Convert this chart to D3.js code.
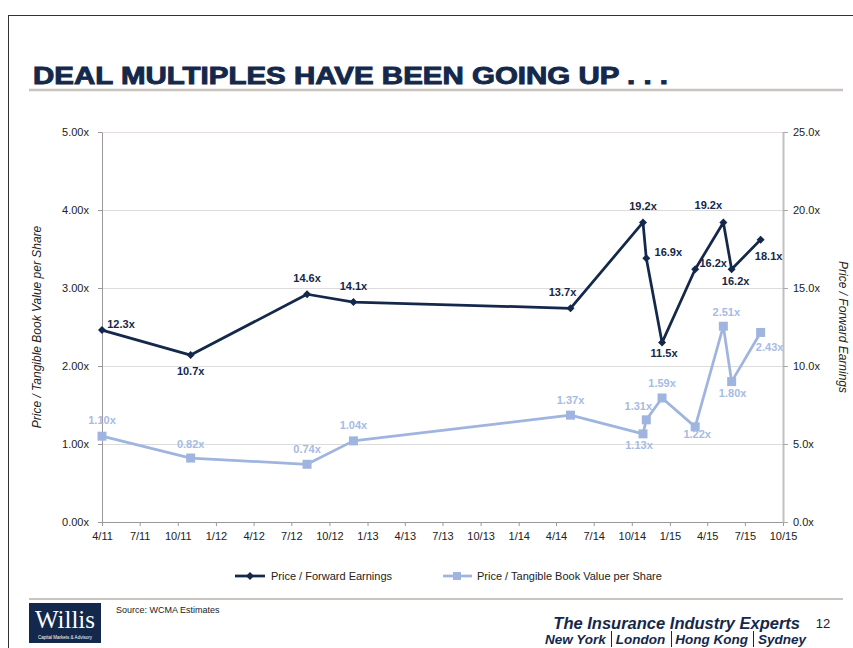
<!DOCTYPE html>
<html>
<head>
<meta charset="utf-8">
<script src="https://cdn.jsdelivr.net/npm/d3@7"></script>
<style>
  html, body { margin: 0; padding: 0; background: #fff; }
  svg { display: block; font-family: Arial, "Liberation Sans", Helvetica, sans-serif; }
</style>
</head>
<body>
<svg id="chart" width="853" height="648"></svg>
<script>
// Deal dates and the two multiples observed at each deal
const dealDates = ["2011-04-01", "2011-11-01", "2012-08-08", "2012-11-28", "2014-05-06", "2014-10-28",
                   "2014-11-05", "2014-12-13", "2015-03-03", "2015-05-10", "2015-05-30", "2015-08-08"];
const peValues  = [12.3, 10.7, 14.6, 14.1, 13.7, 19.2, 16.9, 11.5, 16.2, 19.2, 16.2, 18.1];
const tbvValues = [1.10, 0.82, 0.74, 1.04, 1.37, 1.13, 1.31, 1.59, 1.22, 2.51, 1.80, 2.43];

// Axis ticks
const leftTicks  = [0, 1, 2, 3, 4, 5];
const rightTicks = [0, 5, 10, 15, 20, 25];

// Office locations in the footer
const cityNames = ["New York", "London", "Hong Kong", "Sydney"];

// Label offsets (dx, dy from the marker centre)
const peLabelOffsets  = [[19, -6], [0, 16], [0, -16], [0, -16], [-8, -16], [0, -16],
                         [22, -6], [2, 10], [18, -6], [-15, -17], [4, 12], [8, 16]];
const tbvLabelOffsets = [[0, -16], [0, -14], [0, -15], [0, -16], [0, -15], [-4, 11],
                         [-8, -14], [0, -15], [2, 7], [3, -14], [1, 11], [9, 15]];

const navy = "#14284b";
const lightBlue = "#9fb5e0";

const svg = d3.select("#chart");
const parse = d3.timeParse("%Y-%m-%d");
const dates = dealDates.map(parse);

const plot = { left: 102, right: 783, top: 132, bottom: 522 };

const x = d3.scaleTime()
  .domain([new Date(2011, 3, 1), new Date(2015, 9, 1)])
  .range([plot.left, plot.right]);
const yLeft = d3.scaleLinear().domain([0, 5]).range([plot.bottom, plot.top]);
const yRight = d3.scaleLinear().domain([0, 25]).range([plot.bottom, plot.top]);

// Page frame
svg.append("rect").attr("x", 0).attr("y", 0).attr("width", 853).attr("height", 648).attr("fill", "#fff");
svg.append("line").attr("x1", 8).attr("x2", 853).attr("y1", 15.5).attr("y2", 15.5)
  .attr("stroke", "#333").attr("stroke-width", 1);
svg.append("line").attr("x1", 8.5).attr("x2", 8.5).attr("y1", 15).attr("y2", 648)
  .attr("stroke", "#333").attr("stroke-width", 1);

// Title
svg.append("text")
  .attr("x", 33).attr("y", 84)
  .attr("font-size", 23).attr("font-weight", "bold")
  .attr("fill", navy).attr("stroke", navy).attr("stroke-width", 0.9)
  .attr("textLength", 635).attr("lengthAdjust", "spacingAndGlyphs")
  .text("DEAL MULTIPLES HAVE BEEN GOING UP . . .");
svg.append("line").attr("x1", 29).attr("x2", 843).attr("y1", 90).attr("y2", 90)
  .attr("stroke", "#c9c4c0").attr("stroke-width", 2.5);

// Gridlines
svg.append("g").selectAll("line")
  .data(leftTicks.filter(d => d > 0))
  .join("line")
  .attr("x1", plot.left).attr("x2", plot.right)
  .attr("y1", d => Math.round(yLeft(d)) + 0.5).attr("y2", d => Math.round(yLeft(d)) + 0.5)
  .attr("stroke", d => d === 5 ? "#e8dcdc" : "#dcdcdc").attr("stroke-width", 1);

// Axes
const fmtMonth = d => (d.getMonth() + 1) + "/" + d3.timeFormat("%y")(d);

const xAxis = svg.append("g")
  .attr("transform", `translate(0,${plot.bottom})`)
  .call(d3.axisBottom(x).ticks(d3.timeMonth.every(3)).tickFormat(fmtMonth).tickSize(4).tickPadding(6).tickSizeOuter(0));

const leftAxis = svg.append("g")
  .attr("transform", `translate(${plot.left},0)`)
  .call(d3.axisLeft(yLeft).tickValues(leftTicks).tickFormat(d => d.toFixed(2) + "x").tickSize(4).tickPadding(9).tickSizeOuter(0));

const rightAxis = svg.append("g")
  .attr("transform", `translate(${plot.right},0)`)
  .call(d3.axisRight(yRight).tickValues(rightTicks).tickFormat(d => d.toFixed(1) + "x").tickSize(5).tickPadding(5).tickSizeOuter(0));

[xAxis, leftAxis].forEach(g => {
  g.select(".domain").attr("stroke", "#999").attr("stroke-width", 1);
  g.selectAll(".tick line").attr("stroke", "#999");
});
rightAxis.select(".domain").attr("stroke", "#c0c0c0").attr("stroke-width", 2);
rightAxis.selectAll(".tick line").attr("stroke", "#aaa");
[xAxis, leftAxis, rightAxis].forEach(g => {
  g.selectAll("text").attr("font-size", 11).attr("fill", "#222")
    .attr("font-family", "Arial, 'Liberation Sans', sans-serif");
});

// Axis titles
svg.append("text")
  .attr("transform", `translate(41,${(plot.top + plot.bottom) / 2}) rotate(-90)`)
  .attr("text-anchor", "middle")
  .attr("font-size", 12).attr("font-style", "italic").attr("fill", "#222")
  .text("Price / Tangible Book Value per Share");
svg.append("text")
  .attr("transform", `translate(839,${(plot.top + plot.bottom) / 2}) rotate(90)`)
  .attr("text-anchor", "middle")
  .attr("font-size", 12).attr("font-style", "italic").attr("fill", "#222")
  .text("Price / Forward Earnings");

// Series
const tbvData = dates.map((d, i) => ({ date: d, value: tbvValues[i], off: tbvLabelOffsets[i] }));
const peData = dates.map((d, i) => ({ date: d, value: peValues[i], off: peLabelOffsets[i] }));

const tbvLine = d3.line().x(d => x(d.date)).y(d => yLeft(d.value));
const peLine = d3.line().x(d => x(d.date)).y(d => yRight(d.value));

svg.append("path").datum(tbvData)
  .attr("d", tbvLine).attr("fill", "none")
  .attr("stroke", lightBlue).attr("stroke-width", 2.75).attr("stroke-linejoin", "round");

svg.append("g").selectAll("path")
  .data(tbvData).join("path")
  .attr("transform", d => `translate(${x(d.date)},${yLeft(d.value)})`)
  .attr("d", d3.symbol(d3.symbolSquare, 81))
  .attr("fill", lightBlue);

svg.append("path").datum(peData)
  .attr("d", peLine).attr("fill", "none")
  .attr("stroke", navy).attr("stroke-width", 2.75).attr("stroke-linejoin", "round");

svg.append("g").selectAll("path")
  .data(peData).join("path")
  .attr("transform", d => `translate(${x(d.date)},${yRight(d.value)}) rotate(45)`)
  .attr("d", d3.symbol(d3.symbolSquare, 32))
  .attr("fill", navy);

// Data labels
svg.append("g").selectAll("text")
  .data(tbvData).join("text")
  .attr("x", d => x(d.date) + d.off[0])
  .attr("y", d => yLeft(d.value) + d.off[1])
  .attr("text-anchor", "middle").attr("dominant-baseline", "central")
  .attr("font-size", 11).attr("font-weight", "bold").attr("fill", "#a6bbe3")
  .text(d => d.value.toFixed(2) + "x");

svg.append("g").selectAll("text")
  .data(peData).join("text")
  .attr("x", d => x(d.date) + d.off[0])
  .attr("y", d => yRight(d.value) + d.off[1])
  .attr("text-anchor", "middle").attr("dominant-baseline", "central")
  .attr("font-size", 11).attr("font-weight", "bold").attr("fill", navy)
  .text(d => d.value.toFixed(1) + "x");

// Legend
const legend = svg.append("g").attr("transform", "translate(0,576)");
legend.append("line").attr("x1", 235).attr("x2", 265).attr("y1", 0).attr("y2", 0)
  .attr("stroke", navy).attr("stroke-width", 2.75);
legend.append("path").attr("transform", "translate(250,0) rotate(45)")
  .attr("d", d3.symbol(d3.symbolSquare, 32)).attr("fill", navy);
legend.append("text").attr("x", 271).attr("y", 0).attr("dominant-baseline", "central")
  .attr("font-size", 11).attr("fill", "#222").text("Price / Forward Earnings");
legend.append("line").attr("x1", 443).attr("x2", 472).attr("y1", 0).attr("y2", 0)
  .attr("stroke", lightBlue).attr("stroke-width", 2.75);
legend.append("path").attr("transform", "translate(457,0)")
  .attr("d", d3.symbol(d3.symbolSquare, 64)).attr("fill", lightBlue);
legend.append("text").attr("x", 477).attr("y", 0).attr("dominant-baseline", "central")
  .attr("font-size", 11).attr("fill", "#222").text("Price / Tangible Book Value per Share");

// Footer
svg.append("line").attr("x1", 29).attr("x2", 843).attr("y1", 599).attr("y2", 599)
  .attr("stroke", "#c9c4c0").attr("stroke-width", 2);

const logo = svg.append("g");
logo.append("rect").attr("x", 29).attr("y", 603).attr("width", 72).attr("height", 40).attr("fill", "#14284b");
logo.append("text").attr("x", 65).attr("y", 628).attr("text-anchor", "middle")
  .attr("font-family", "'Liberation Serif', 'DejaVu Serif', serif").attr("font-size", 25)
  .attr("fill", "#fff").text("Willis");
logo.append("text").attr("x", 65).attr("y", 638.5).attr("text-anchor", "middle")
  .attr("font-size", 4.5).attr("fill", "#fff").text("Capital Markets & Advisory");

svg.append("text").attr("x", 116).attr("y", 613)
  .attr("font-size", 9).attr("fill", "#222").text("Source: WCMA Estimates");

svg.append("text").attr("x", 800).attr("y", 629).attr("text-anchor", "end")
  .attr("font-size", 16.5).attr("font-weight", "bold").attr("font-style", "italic")
  .attr("fill", navy).text("The Insurance Industry Experts");
svg.append("text").attr("x", 823).attr("y", 628).attr("text-anchor", "middle")
  .attr("font-size", 13).attr("fill", "#222").text("12");

// City names laid out right-to-left with thin separators between them
const cityGroup = svg.append("g");
let cursor = 806;
const gap = 4.5;
cityNames.slice().reverse().forEach((name, i) => {
  const t = cityGroup.append("text").attr("x", cursor).attr("y", 644).attr("text-anchor", "end")
    .attr("font-size", 13.5).attr("font-weight", "bold").attr("font-style", "italic")
    .attr("fill", navy).text(name);
  const w = t.node().getComputedTextLength();
  cursor -= w;
  if (i < cityNames.length - 1) {
    cursor -= gap;
    cityGroup.append("line").attr("x1", Math.round(cursor) + 0.5).attr("x2", Math.round(cursor) + 0.5)
      .attr("y1", 631).attr("y2", 647).attr("stroke", navy).attr("stroke-width", 1);
    cursor -= gap + 1;
  }
});
</script>
</body>
</html>
